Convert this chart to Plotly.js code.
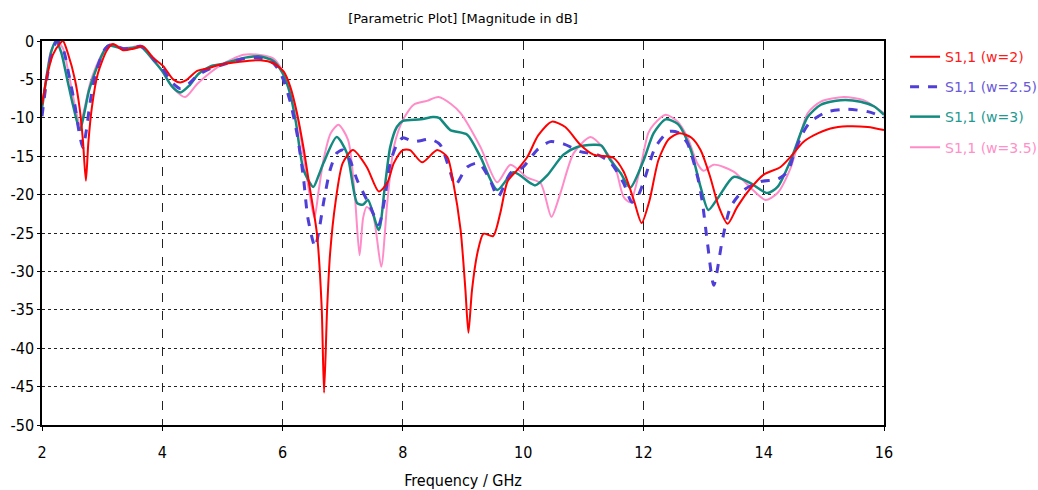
<!DOCTYPE html>
<html>
<head>
<meta charset="utf-8">
<script src="https://cdn.plot.ly/plotly-3.0.1.min.js"></script>
<style>
  html, body { margin: 0; padding: 0; background: #fff; }
  #chart { width: 1038px; height: 490px; }
</style>
</head>
<body>
<div id="chart"></div>
<script>
// S1,1 magnitude (dB) versus frequency (GHz) for four strip widths w.
const freqW2 = [2.0, 2.08, 2.18, 2.3, 2.35, 2.43, 2.55, 2.63, 2.68, 2.73, 2.77, 2.83, 2.93, 3.08, 3.18, 3.35, 3.52, 3.68, 3.85, 4.02, 4.18, 4.3, 4.4, 4.58, 4.74, 4.96, 5.29, 5.63, 5.85, 6.02, 6.13, 6.24, 6.35, 6.45, 6.57, 6.65, 6.69, 6.74, 6.79, 6.88, 7.0, 7.17, 7.4, 7.6, 7.74, 7.85, 8.0, 8.12, 8.32, 8.57, 8.74, 8.84, 8.96, 9.04, 9.09, 9.15, 9.24, 9.34, 9.5, 9.62, 9.74, 9.9, 10.07, 10.25, 10.48, 10.7, 10.95, 11.17, 11.5, 11.67, 11.84, 11.97, 12.1, 12.25, 12.42, 12.6, 12.8, 12.95, 13.11, 13.25, 13.4, 13.56, 13.78, 14.0, 14.28, 14.5, 14.65, 14.83, 15.11, 15.39, 15.73, 16.0];
const s11W2 = [-8.3, -4.7, -1.8, -0.3, 0, -1.6, -5.1, -9, -12.9, -18.2, -13.3, -8.6, -4.2, -1.2, -0.4, -1.2, -1.0, -0.7, -2.2, -3.3, -5.0, -5.4, -5.1, -3.9, -3.6, -3.1, -2.7, -2.5, -2.9, -4.0, -6, -9.4, -14, -19, -25, -34.6, -45.8, -35, -27.7, -21, -15.9, -14.2, -16.4, -19.6, -18.5, -15.9, -14.2, -14.2, -15.8, -14.2, -15.1, -18.5, -24.6, -32.4, -38, -32.4, -27.6, -25.1, -25.4, -22.4, -18.3, -16.8, -15.1, -12.3, -10.5, -11.2, -13.5, -14.8, -15.2, -17, -20.7, -23.7, -20.8, -15.5, -12.8, -12.0, -12.6, -14.2, -17.7, -21.5, -23.8, -21.6, -19.2, -17.4, -16.4, -14.6, -13.2, -12.3, -11.4, -11.1, -11.2, -11.6];

const freqW25 = [2.0, 2.08, 2.15, 2.25, 2.35, 2.45, 2.55, 2.62, 2.68, 2.74, 2.8, 2.9, 3.05, 3.15, 3.35, 3.5, 3.65, 3.85, 4.0, 4.15, 4.3, 4.45, 4.6, 4.8, 5.0, 5.3, 5.6, 5.85, 6.0, 6.13, 6.25, 6.35, 6.42, 6.54, 6.62, 6.68, 6.79, 6.9, 7.0, 7.12, 7.24, 7.46, 7.6, 7.7, 7.79, 7.9, 8.0, 8.18, 8.46, 8.62, 8.79, 8.87, 9.07, 9.26, 9.45, 9.58, 9.79, 10.0, 10.23, 10.45, 10.67, 10.95, 11.23, 11.45, 11.67, 11.81, 11.92, 12.03, 12.2, 12.42, 12.57, 12.73, 12.9, 12.98, 13.06, 13.17, 13.31, 13.45, 13.67, 13.95, 14.23, 14.4, 14.5, 14.65, 14.78, 15.06, 15.39, 15.73, 16.0];
const s11W25 = [-9.8, -5, -2, 0, -1, -4.5, -8.5, -12, -13.9, -11.5, -8, -4, -1, -0.5, -1.0, -0.9, -0.7, -2.3, -3.5, -5.3, -6.2, -5.5, -4.4, -3.6, -3.1, -2.4, -2.2, -2.9, -4.8, -8.0, -12.5, -18, -23, -26.8, -24, -21.1, -16.8, -14.6, -14.2, -15.5, -18.1, -21.6, -23.9, -20.5, -15.9, -13.5, -12.6, -13.1, -12.8, -13.5, -17.1, -18.8, -16.4, -15.9, -18.1, -20.3, -17.2, -16.4, -14.2, -13.1, -13.4, -14.4, -14.8, -15.8, -18.5, -21.0, -20, -17.7, -13.8, -11.8, -11.9, -13.3, -17.7, -21, -26, -31.8, -26, -21.6, -19.4, -18.3, -18.0, -17.0, -14.8, -12, -10.5, -9.2, -8.9, -9.2, -9.9];

const freqW3 = [2.0, 2.08, 2.15, 2.23, 2.32, 2.42, 2.52, 2.63, 2.7, 2.78, 2.9, 3.0, 3.1, 3.35, 3.5, 3.65, 3.85, 4.0, 4.15, 4.3, 4.45, 4.6, 4.8, 5.0, 5.3, 5.6, 5.85, 6.0, 6.13, 6.22, 6.35, 6.51, 6.6, 6.68, 6.9, 7.07, 7.24, 7.34, 7.42, 7.6, 7.7, 7.79, 7.9, 8.0, 8.3, 8.5, 8.6, 8.79, 9.07, 9.29, 9.57, 9.84, 10.12, 10.2, 10.4, 10.67, 10.9, 11.17, 11.3, 11.45, 11.62, 11.78, 12.0, 12.17, 12.37, 12.57, 12.78, 12.95, 13.08, 13.25, 13.5, 13.78, 14.06, 14.23, 14.45, 14.73, 14.95, 15.28, 15.61, 15.83, 16.0];
const s11W3 = [-8.8, -4.5, -1.5, 0, -1.5, -5, -8.5, -11.6, -9.5, -6.5, -3.7, -1.8, -0.6, -1.0, -0.9, -0.8, -2.5, -3.9, -5.8, -6.7, -5.8, -4.3, -3.3, -3.0, -2.3, -2.0, -2.6, -4.2, -7.0, -10.5, -16.8, -19, -17.5, -15.9, -12.5, -14.6, -21.1, -21.3, -20.7, -24.6, -19, -13.8, -11.2, -10.4, -10.2, -9.9, -10.0, -11.6, -12.2, -15.1, -19.4, -17.1, -18.5, -18.8, -17.5, -14.8, -13.8, -13.5, -13.6, -15.5, -17.2, -19.1, -15.6, -12, -10.2, -10.8, -14, -19, -22, -20.3, -17.7, -18.5, -19.8, -19, -15.5, -9.9, -8.3, -7.7, -7.9, -8.5, -9.6];

const freqW35 = [2.0, 2.08, 2.15, 2.25, 2.35, 2.45, 2.55, 2.63, 2.7, 2.8, 2.9, 3.05, 3.15, 3.35, 3.5, 3.65, 3.85, 4.0, 4.2, 4.38, 4.58, 4.8, 5.0, 5.35, 5.6, 5.85, 6.0, 6.13, 6.25, 6.35, 6.45, 6.53, 6.6, 6.68, 6.8, 6.93, 7.09, 7.2, 7.28, 7.34, 7.4, 7.5, 7.64, 7.74, 7.85, 8.0, 8.18, 8.4, 8.59, 8.8, 8.96, 9.29, 9.57, 9.79, 10.07, 10.29, 10.47, 10.62, 10.84, 11.12, 11.34, 11.53, 11.67, 11.78, 11.95, 12.08, 12.17, 12.37, 12.57, 12.73, 12.9, 13.0, 13.17, 13.5, 13.78, 14.03, 14.23, 14.45, 14.73, 14.95, 15.33, 15.66, 16.0];
const s11W35 = [-8.6, -4.2, -1.3, 0, -1, -4.5, -8.5, -10.9, -9, -5.5, -3.3, -1, -0.4, -0.9, -0.8, -0.6, -2.4, -4.0, -6.3, -7.3, -5.6, -4.1, -3.0, -1.8, -1.8, -2.3, -3.9, -6.5, -10, -15, -20, -23, -19.5, -15.5, -12, -10.9, -12.9, -20, -27.9, -23, -21.6, -22.5, -29.4, -21.1, -13.8, -10.3, -8.3, -7.8, -7.3, -8.2, -9.4, -13.8, -18.4, -16.1, -17.8, -18.5, -22.9, -19.8, -14.6, -12.5, -14, -16.4, -20.3, -21, -16.4, -12, -10.9, -9.6, -10.5, -12.5, -16, -16.9, -16.1, -17.0, -19.1, -20.7, -19.8, -16.5, -9.4, -7.9, -7.3, -7.7, -9.4];

const seriesNames = ['S1,1 (w=2)', 'S1,1 (w=2.5)', 'S1,1 (w=3)', 'S1,1 (w=3.5)'];
const xTickVals = [2, 4, 6, 8, 10, 12, 14, 16];
const yTickVals = [0, -5, -10, -15, -20, -25, -30, -35, -40, -45, -50];

const lineColors = ['#ff0000', '#4f3fd6', '#138a80', '#ff8cc8'];
const labelColors = ['#ff1a1a', '#6a5ad8', '#1f9a92', '#ff90c8'];
const lineWidths = [2, 3, 2.5, 2];
const lineDashes = ['solid', 'dash', 'solid', 'solid'];
const legendIds = ['legend', 'legend2', 'legend3', 'legend4'];
const legendY = [0.958, 0.880, 0.802, 0.722];

const xs = [freqW2, freqW25, freqW3, freqW35];
const ys = [s11W2, s11W25, s11W3, s11W35];
const drawOrder = [3, 2, 1, 0];

const traces = drawOrder.map(i => ({
  type: 'scatter',
  mode: 'lines',
  x: xs[i],
  y: ys[i],
  name: seriesNames[i],
  legend: legendIds[i],
  line: { color: lineColors[i], width: lineWidths[i], dash: lineDashes[i], shape: 'spline', smoothing: 0.7 },
  hoverinfo: 'x+y+name'
}));

const uiFont = '"DejaVu Sans", Tahoma, Verdana, sans-serif';
const tickFont = '"Liberation Sans Narrow", "DejaVu Sans Condensed", "Liberation Sans", Arial, sans-serif';

const layout = {
  width: 1038,
  height: 490,
  margin: { l: 42, r: 154, t: 41, b: 65, autoexpand: false },
  paper_bgcolor: '#ffffff',
  plot_bgcolor: '#ffffff',
  showlegend: true,
  title: {
    text: '[Parametric Plot] [Magnitude in dB]',
    font: { family: uiFont, size: 13, color: '#000000' },
    x: 0.5, xref: 'paper', xanchor: 'center',
    y: 0.963, yref: 'container', yanchor: 'middle'
  },
  xaxis: {
    range: [2, 16],
    tickvals: xTickVals,
    ticktext: xTickVals.map(String),
    ticks: 'outside', ticklen: 4, tickcolor: '#000000',
    ticklabelstandoff: 8,
    showline: true, linecolor: '#000000', linewidth: 1.5, mirror: true,
    showgrid: true, gridcolor: '#222222', gridwidth: 1, griddash: 'dash',
    zeroline: false,
    tickfont: { family: tickFont, size: 16, color: '#000000' },
    title: { text: 'Frequency / GHz', font: { family: tickFont, size: 16, color: '#000000' }, standoff: 18 }
  },
  yaxis: {
    range: [-50, 0],
    tickvals: yTickVals,
    ticktext: yTickVals.map(String),
    ticks: 'outside', ticklen: 3, tickcolor: '#000000',
    showline: true, linecolor: '#000000', linewidth: 1.5, mirror: true,
    showgrid: true, gridcolor: '#222222', gridwidth: 1, griddash: 'dot',
    zeroline: false,
    tickfont: { family: tickFont, size: 16, color: '#000000' }
  }
};

// one legend box per series so each label can take its own colour
legendIds.forEach((id, i) => {
  layout[id] = {
    x: 1.025, xref: 'paper', xanchor: 'left',
    y: legendY[i], yref: 'paper', yanchor: 'middle',
    bgcolor: 'rgba(0,0,0,0)', borderwidth: 0,
    font: { family: uiFont, size: 14, color: labelColors[i] },
    itemwidth: 30
  };
});

Plotly.newPlot('chart', traces, layout, { displayModeBar: false, responsive: false });
</script>
</body>
</html>
